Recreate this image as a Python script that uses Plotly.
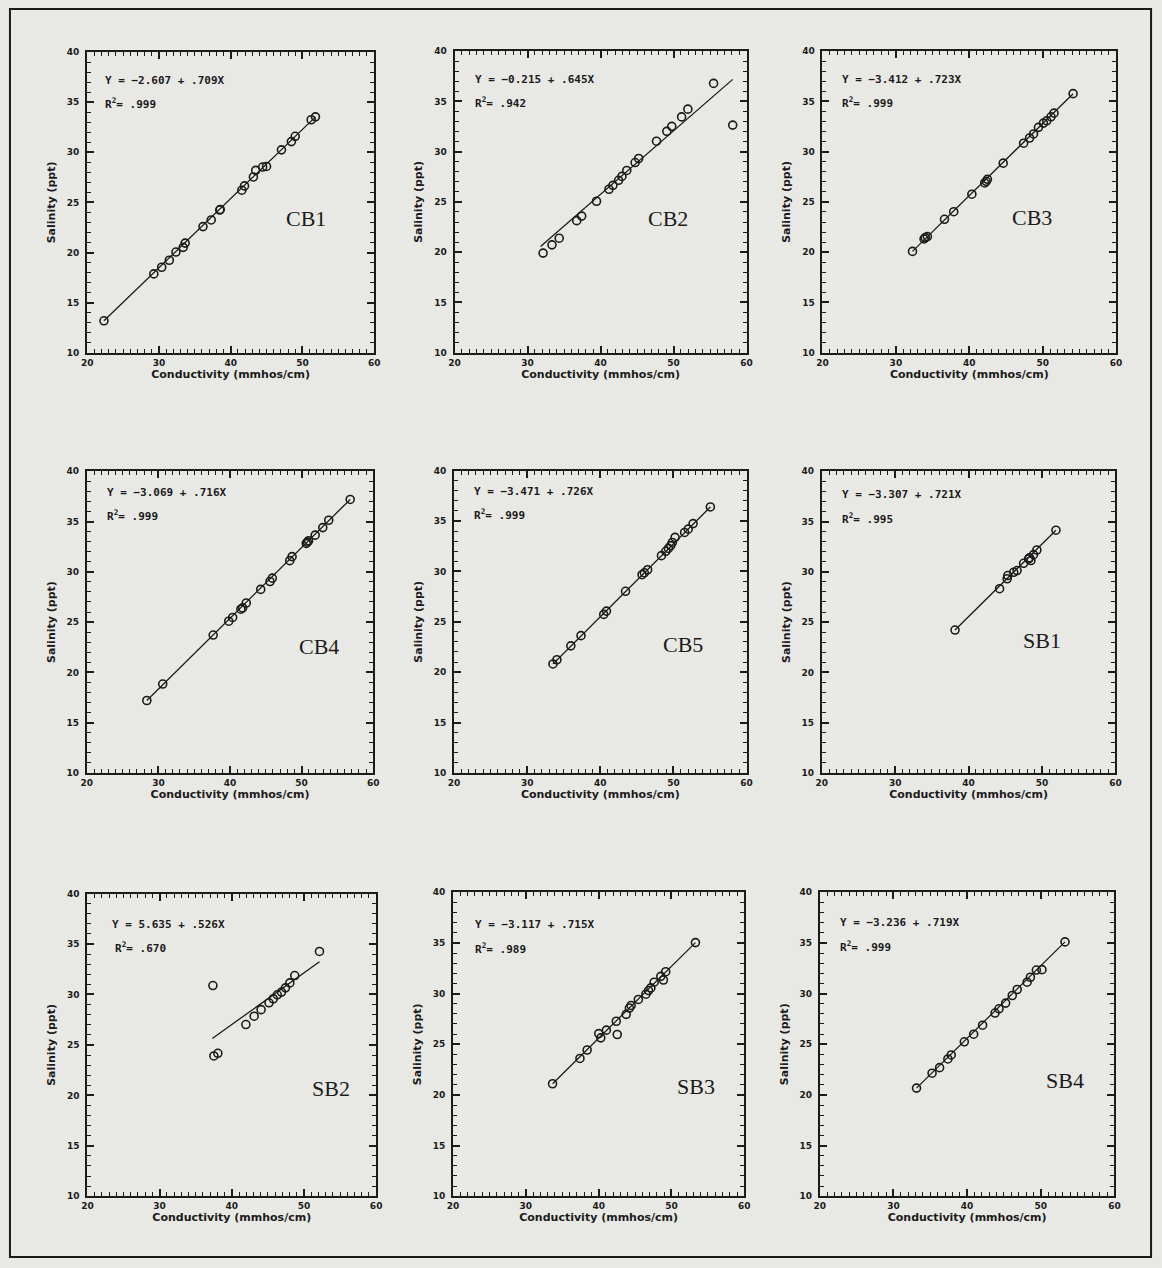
import plotly.graph_objects as go

# ---------------- data ----------------
panel_names = ["CB1", "CB2", "CB3", "CB4", "CB5", "SB1", "SB2", "SB3", "SB4"]
equations = ["Y = −2.607 + .709X", "Y = −0.215 + .645X", "Y = −3.412 + .723X",
             "Y = −3.069 + .716X", "Y = −3.471 + .726X", "Y = −3.307 + .721X",
             "Y = 5.635 + .526X", "Y = −3.117 + .715X", "Y = −3.236 + .719X"]
r_squared = [".999", ".942", ".999", ".999", ".999", ".995", ".670", ".989", ".999"]

cb1_x = [22.34, 29.29, 30.39, 31.45, 32.37, 33.38, 33.66, 36.14, 37.29, 38.48, 38.55,
         41.56, 41.93, 43.17, 43.49, 44.46, 45.0, 47.08, 48.46, 49.0, 51.22, 51.82]
cb1_y = [13.19, 17.87, 18.53, 19.23, 20.05, 20.52, 20.94, 22.59, 23.25, 24.24, 24.3,
         26.22, 26.65, 27.54, 28.2, 28.53, 28.59, 30.25, 31.07, 31.6, 33.25, 33.54]

cb2_x = [32.12, 33.34, 34.33, 36.73, 37.41, 39.44, 41.15, 41.69, 42.47, 42.92,
         43.59, 44.73, 45.22, 47.66, 49.07, 49.75, 51.1, 51.96, 55.48, 58.1]
cb2_y = [19.91, 20.73, 21.39, 23.14, 23.59, 25.07, 26.26, 26.65, 27.15, 27.54,
         28.13, 28.92, 29.32, 31.04, 32.02, 32.52, 33.46, 34.23, 36.79, 32.64]

cb3_x = [32.26, 33.84, 34.29, 34.0, 36.62, 37.88, 40.35, 42.1, 42.47, 42.3,
         44.62, 47.4, 48.21, 48.75, 49.42, 50.1, 50.55, 51.13, 51.54, 54.14]
cb3_y = [20.08, 21.32, 21.56, 21.45, 23.27, 24.03, 25.77, 26.89, 27.25, 27.05,
         28.86, 30.84, 31.36, 31.76, 32.42, 32.84, 33.07, 33.47, 33.83, 35.77]

cb4_x = [28.38, 30.6, 37.65, 39.82, 40.37, 41.52, 41.76, 42.27, 44.29, 45.59,
         45.91, 48.35, 48.67, 50.65, 50.98, 50.8, 51.9, 52.96, 53.79, 56.79]
cb4_y = [17.2, 18.84, 23.71, 25.09, 25.46, 26.28, 26.41, 26.9, 28.25, 29.04,
         29.37, 31.11, 31.51, 32.82, 33.09, 32.95, 33.65, 34.4, 35.13, 37.2]

cb5_x = [33.53, 34.07, 35.97, 37.36, 40.47, 40.84, 43.45, 45.71, 46.02, 46.47,
         48.36, 48.96, 49.31, 49.63, 49.85, 50.22, 51.53, 52.02, 52.69, 55.05]
cb5_y = [20.81, 21.23, 22.61, 23.62, 25.73, 26.05, 28.02, 29.67, 29.86, 30.16,
         31.56, 31.99, 32.28, 32.55, 32.87, 33.37, 33.86, 34.19, 34.74, 36.39]

sb1_x = [38.15, 44.22, 45.25, 45.34, 46.15, 46.6, 47.49, 48.17, 48.49, 48.84, 48.3, 49.3, 51.9]
sb1_y = [24.21, 28.32, 29.31, 29.63, 29.96, 30.13, 30.85, 31.28, 31.12, 31.71, 31.4, 32.17, 34.14]

sb2_x = [37.38, 37.52, 38.07, 41.95, 43.1, 44.06, 45.16, 45.75, 46.3, 46.89,
         47.44, 48.04, 48.72, 52.15]
sb2_y = [30.89, 23.91, 24.17, 27.02, 27.85, 28.5, 29.18, 29.58, 29.97, 30.24,
         30.66, 31.15, 31.88, 34.27]

sb3_x = [33.67, 37.43, 38.42, 40.01, 40.29, 41.06, 42.55, 42.42, 43.78, 44.22,
         44.46, 45.45, 46.49, 46.85, 47.17, 47.62, 48.53, 48.89, 49.21, 53.29]
sb3_y = [21.1, 23.6, 24.43, 26.05, 25.63, 26.39, 25.96, 27.27, 27.95, 28.57,
         28.83, 29.42, 29.94, 30.3, 30.56, 31.12, 31.7, 31.34, 32.16, 35.03]

sb4_x = [33.13, 35.24, 36.26, 37.39, 37.84, 39.62, 40.89, 42.1, 43.79, 44.33,
         45.23, 46.13, 46.8, 48.15, 48.59, 49.4, 50.16, 53.29]
sb4_y = [20.67, 22.14, 22.69, 23.55, 23.94, 25.24, 25.99, 26.88, 28.08, 28.5,
         29.06, 29.81, 30.4, 31.12, 31.61, 32.32, 32.36, 35.1]

# fitted line end points
fit_x = [[22.34, 51.82], [31.77, 58.1], [32.26, 54.14], [28.38, 56.79], [33.53, 55.05],
         [38.15, 51.9], [37.3, 52.15], [33.67, 53.29], [33.13, 53.29]]
fit_y = [[13.19, 33.54], [20.57, 37.19], [20.08, 35.77], [17.2, 37.2], [20.81, 36.39],
         [24.21, 34.14], [25.64, 33.25], [21.1, 35.03], [20.67, 35.1]]

# label positions (data units)
eq_pos = [(22.25, 37.2, 22.25, 34.85), (22.5, 37.2, 22.5, 34.9), (22.4, 37.2, 22.4, 34.9),
          (22.5, 37.85, 22.5, 35.6), (22.4, 37.9, 22.4, 35.6), (22.5, 37.7, 22.5, 35.3),
          (23.1, 36.95, 23.6, 34.65), (22.7, 36.8, 22.7, 34.45), (22.5, 37.0, 22.5, 34.6)]
name_pos = [(50.5, 23.4), (49.3, 23.4), (48.6, 23.5), (52.4, 22.6), (51.35, 22.7),
            (50.05, 23.2), (53.7, 20.7), (53.3, 20.8), (53.25, 21.4)]

x_range = [20, 60]
y_range = [10, 40]
x_major_step = 10
y_major_step = 5
minor_step = 1

series_x = [cb1_x, cb2_x, cb3_x, cb4_x, cb5_x, sb1_x, sb2_x, sb3_x, sb4_x]
series_y = [cb1_y, cb2_y, cb3_y, cb4_y, cb5_y, sb1_y, sb2_y, sb3_y, sb4_y]

# ---------------- layout (pixels) ----------------
W, H = 1162, 1268
boxes = [(82, 372, 47.5, 350.5), (453.3, 748.3, 46.5, 350.5), (825, 1121.7, 46.5, 350.5),
         (81.7, 371, 470, 774), (452.7, 748.3, 469.3, 774), (824.3, 1121, 470, 774),
         (82.3, 374, 895.7, 1200.7), (451.7, 746, 894.3, 1200.7), (822.3, 1120, 894.3, 1200.7)]

BG = "#e8e9e5"
INK = "#1c1a1a"
TICK_FONT = dict(family="DejaVu Sans", size=9, color=INK, weight="bold")
TITLE_FONT = dict(family="DejaVu Sans", size=11, color=INK, weight="bold")
EQ_FONT = dict(family="DejaVu Sans Mono", size=11, color=INK, weight="bold")

fig = go.Figure()
annotations = []
layout_axes = {}

for i in range(9):
    n = i + 1
    xa = "x" if n == 1 else f"x{n}"
    ya = "y" if n == 1 else f"y{n}"
    L, R, T, B = boxes[i]
    fig.add_trace(go.Scatter(x=fit_x[i], y=fit_y[i], mode="lines",
                             line=dict(color=INK, width=1.3), xaxis=xa, yaxis=ya,
                             showlegend=False, hoverinfo="skip"))
    fig.add_trace(go.Scatter(x=series_x[i], y=series_y[i], mode="markers",
                             marker=dict(symbol="circle-open", size=8, color=INK,
                                         line=dict(color=INK, width=1.6)),
                             xaxis=xa, yaxis=ya, showlegend=False))
    common = dict(showgrid=False, zeroline=False, showline=True, linecolor=INK,
                  linewidth=2, mirror="allticks", ticks="inside", tickcolor=INK,
                  tickwidth=1.5, ticklen=7, tickfont=TICK_FONT)
    layout_axes["xaxis" if n == 1 else f"xaxis{n}"] = dict(
        common, domain=[L / W, R / W], anchor=ya, range=x_range, dtick=x_major_step,
        minor=dict(dtick=minor_step, ticklen=4, ticks="inside", tickwidth=1.3),
        title=dict(text="Conductivity (mmhos/cm)", standoff=2, font=TITLE_FONT))
    layout_axes["yaxis" if n == 1 else f"yaxis{n}"] = dict(
        common, domain=[1 - B / H, 1 - T / H], anchor=xa, range=y_range, dtick=y_major_step,
        ticklabelstandoff=4,
        minor=dict(dtick=minor_step, ticklen=4, ticks="inside", tickwidth=1.3),
        title=dict(text="Salinity (ppt)", standoff=9, font=TITLE_FONT))
    ex1, ey1, ex2, ey2 = eq_pos[i]
    annotations.append(dict(x=ex1, y=ey1, xref=xa, yref=ya, text=equations[i],
                            showarrow=False, xanchor="left", yanchor="middle",
                            font=EQ_FONT))
    annotations.append(dict(x=ex2, y=ey2, xref=xa, yref=ya,
                            text="R<sup>2</sup>= " + r_squared[i],
                            showarrow=False, xanchor="left", yanchor="middle",
                            font=EQ_FONT))
    nx, ny = name_pos[i]
    annotations.append(dict(x=nx, y=ny, xref=xa, yref=ya, text=panel_names[i],
                            showarrow=False, xanchor="center", yanchor="middle",
                            font=dict(family="Liberation Serif", size=22, color=INK)))

fig.update_layout(
    width=W, height=H, margin=dict(l=0, r=0, t=0, b=0),
    paper_bgcolor=BG, plot_bgcolor=BG, showlegend=False,
    annotations=annotations,
    shapes=[dict(type="rect", xref="paper", yref="paper", layer="below",
                 x0=4 / W, x1=1157 / W, y0=1 - 1262 / H, y1=1 - 4 / H,
                 line=dict(color=INK, width=2))],
    **layout_axes)

fig.write_html("out.html")
